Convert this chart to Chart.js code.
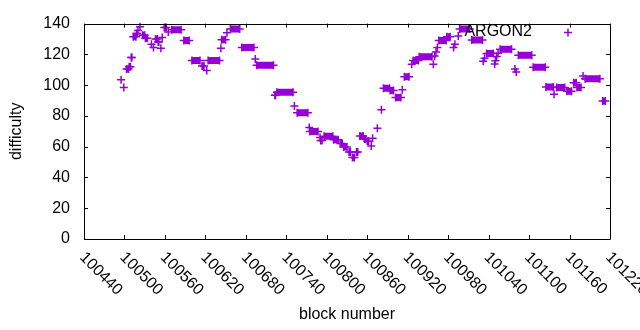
<!DOCTYPE html>
<html>
<head>
<meta charset="utf-8">
<script src="https://cdn.jsdelivr.net/npm/chart.js@4.4.1/dist/chart.umd.min.js"></script>
<style>
  html, body { margin: 0; padding: 0; background: #fff; }
  #wrap { width: 640px; height: 330px; }
</style>
</head>
<body>
<div id="wrap"><canvas id="diffChart" width="640" height="330"></canvas></div>
<script>
// runs of blocks that share one difficulty value (start block, end block, value)
const runStart = [
  100495, 100499, 100503, 100507, 100510, 100513, 100518, 100520, 100523, 100527,
  100531, 100540, 100543, 100546, 100550, 100554, 100556, 100559, 100565, 100570,
  100588, 100600, 100615, 100622, 100624, 100643, 100644, 100652, 100657, 100674,
  100694, 100696, 100723, 100726, 100752, 100756, 100774, 100775, 100790, 100791,
  100796, 100810, 100820, 100825, 100833, 100838, 100844, 100849, 100856, 100860,
  100866, 100868, 100875, 100881, 100884, 100894, 100902, 100912, 100915, 100926,
  100928, 100937, 100958, 100960, 100962, 100964, 100966, 100978, 100988, 100990,
  100995, 100997, 101015, 101032, 101034, 101037, 101049, 101050, 101052, 101054,
  101057, 101079, 101081, 101084, 101106, 101125, 101137, 101141, 101156, 101166,
  101171, 101180, 101183, 101209
];
const runEnd = [
  100495, 100499, 100506, 100509, 100511, 100517, 100519, 100520, 100523, 100530,
  100534, 100540, 100543, 100549, 100551, 100554, 100556, 100562, 100565, 100584,
  100596, 100612, 100618, 100622, 100641, 100643, 100650, 100652, 100671, 100692,
  100694, 100721, 100724, 100750, 100752, 100772, 100774, 100787, 100790, 100793,
  100809, 100817, 100823, 100830, 100835, 100841, 100846, 100854, 100858, 100862,
  100866, 100868, 100875, 100881, 100893, 100899, 100910, 100912, 100922, 100926,
  100936, 100956, 100958, 100960, 100962, 100964, 100977, 100983, 100988, 100990,
  100995, 101012, 101031, 101032, 101034, 101047, 101049, 101050, 101052, 101054,
  101074, 101079, 101081, 101104, 101124, 101136, 101137, 101153, 101163, 101170,
  101177, 101180, 101205, 101213
];
const runValue = [
  103.5, 98.5, 110.5, 112, 118, 131.5, 133.5, 135.5, 138, 132.5,
  130.5, 126.5, 124.5, 130, 128, 124, 131, 137.5, 134.5, 136,
  129, 116, 112.5, 109.5, 116, 124, 129.5, 134, 136.5, 124.5,
  117, 113, 93.5, 95.3, 86.4, 82, 72.5, 69.8, 66, 64,
  66.8, 64.5, 62, 59.8, 56.6, 53, 56.5, 67, 65, 63.5,
  60.5, 65.5, 72, 84, 98, 96.5, 92, 97, 105.4, 113.5,
  116, 118.5, 113.5, 119, 121.5, 124.5, 129, 131.5, 124.5, 126.5,
  132, 136.5, 129.3, 115.5, 117.5, 120.5, 113.7, 115.8, 118.6, 120.7,
  123.3, 110.5, 108.5, 119.5, 111.6, 98.8, 94, 98.5, 96, 101.5,
  98.5, 106, 104.2, 89.7
];
const xTicks = [100440, 100500, 100560, 100620, 100680, 100740, 100800, 100860,
                100920, 100980, 101040, 101100, 101160, 101220];
const yTicks = [0, 20, 40, 60, 80, 100, 120, 140];
const seriesName = 'ARGON2';

const purple = 'rgb(148, 0, 211)';
const font = 'Liberation Sans, Arial, sans-serif';

// each run becomes a short segment, runs split by gaps
const points = [];
for (let i = 0; i < runStart.length; i++) {
  points.push({ x: runStart[i], y: runValue[i] });
  if (runEnd[i] !== runStart[i]) points.push({ x: runEnd[i], y: runValue[i] });
  points.push({ x: runEnd[i], y: null });
}

// gnuplot style frame: box, inward ticks, rotated x labels, titles, key
const framePlugin = {
  id: 'frame',
  afterDraw(chart) {
    const ctx = chart.ctx;
    const a = chart.chartArea;
    const xs = chart.scales.x, ys = chart.scales.y;
    const tl = 4;
    ctx.save();
    ctx.strokeStyle = '#000';
    ctx.lineWidth = 1;
    ctx.beginPath();
    ctx.rect(Math.round(a.left) + 0.5, Math.round(a.top) + 0.5,
             Math.round(a.right - a.left), Math.round(a.bottom - a.top));
    xTicks.forEach(v => {
      const px = Math.round(xs.getPixelForValue(v)) + 0.5;
      ctx.moveTo(px, a.bottom); ctx.lineTo(px, a.bottom - tl);
      ctx.moveTo(px, a.top); ctx.lineTo(px, a.top + tl);
    });
    yTicks.forEach(v => {
      const py = Math.round(ys.getPixelForValue(v)) + 0.5;
      ctx.moveTo(a.left, py); ctx.lineTo(a.left + tl, py);
      ctx.moveTo(a.right, py); ctx.lineTo(a.right - tl, py);
    });
    ctx.stroke();

    ctx.fillStyle = '#000';
    ctx.font = '16px ' + font;
    ctx.textAlign = 'left';
    ctx.textBaseline = 'middle';
    xTicks.forEach(v => {
      const px = xs.getPixelForValue(v);
      ctx.save();
      ctx.translate(px - 2, a.bottom + 16);
      ctx.rotate(Math.PI / 4);
      ctx.fillText(String(v), 0, 0);
      ctx.restore();
    });

    ctx.textAlign = 'center';
    ctx.fillText('block number', (a.left + a.right) / 2, 315);
    ctx.save();
    ctx.translate(17, (a.top + a.bottom) / 2);
    ctx.rotate(-Math.PI / 2);
    ctx.fillText('difficulty', 0, 0);
    ctx.restore();

    // key
    ctx.textAlign = 'right';
    ctx.fillText(seriesName, 532, 32);
    ctx.strokeStyle = purple;
    ctx.lineWidth = 1.5;
    ctx.beginPath();
    ctx.moveTo(564, 32.5); ctx.lineTo(572, 32.5);
    ctx.moveTo(568, 28.5); ctx.lineTo(568, 36.5);
    ctx.stroke();
    ctx.restore();
  }
};

new Chart(document.getElementById('diffChart'), {
  type: 'line',
  data: {
    datasets: [{
      label: seriesName,
      data: points,
      borderColor: purple,
      backgroundColor: purple,
      borderWidth: 7,
      borderCapStyle: 'butt',
      spanGaps: false,
      pointStyle: 'cross',
      pointRadius: 4,
      pointBorderWidth: 1.5,
      pointBorderColor: purple,
      pointHoverRadius: 4,
      clip: false
    }]
  },
  options: {
    responsive: false,
    animation: false,
    events: [],
    layout: { padding: { top: 19, right: 30, left: 0, bottom: 0 } },
    scales: {
      x: {
        type: 'linear',
        min: 100440,
        max: 101220,
        ticks: { display: false },
        grid: { display: false, drawTicks: false },
        border: { display: false },
        afterFit: s => { s.height = 91; }
      },
      y: {
        min: 0,
        max: 140,
        ticks: {
          stepSize: 20,
          padding: 14,
          color: '#000',
          font: { family: font, size: 16 }
        },
        grid: { display: false, drawTicks: false },
        border: { display: false },
        afterFit: s => { s.width = 84; }
      }
    },
    plugins: {
      legend: { display: false },
      tooltip: { enabled: false }
    }
  },
  plugins: [framePlugin]
});
</script>
</body>
</html>
